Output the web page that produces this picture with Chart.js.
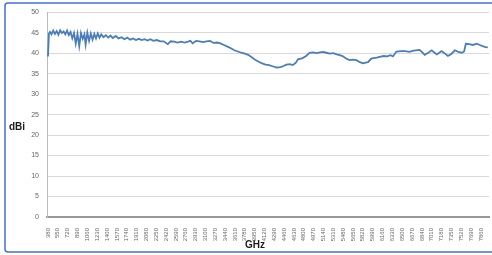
<!DOCTYPE html>
<html>
<head>
<meta charset="utf-8">
<title>dBi vs GHz</title>
<script src="https://cdn.jsdelivr.net/npm/chart.js@4.4.0/dist/chart.umd.min.js"></script>
<style>
html, body { margin: 0; padding: 0; background: #fff; }
#wrap { width: 492px; height: 255px; position: relative; }
</style>
</head>
<body>
<div id="wrap"><canvas id="chart"></canvas></div>
<script>
// frequency (MHz) and gain (dBi)
var freqs = [
  380, 397, 415, 440, 470, 500, 530, 560, 590, 620, 650, 680, 710, 740, 770, 800,
  830, 860, 890, 920, 950, 980, 1010, 1030, 1060, 1090, 1120, 1150, 1180, 1210,
  1240, 1270, 1300, 1340, 1380, 1420, 1460, 1500, 1550, 1600, 1650, 1700, 1750,
  1800, 1850, 1900, 1950, 2000, 2050, 2100, 2150, 2200, 2260, 2320, 2380, 2450,
  2500, 2560, 2620, 2680, 2740, 2800, 2840, 2880, 2940, 3000, 3060, 3120, 3180,
  3240, 3300, 3360, 3420, 3480, 3540, 3600, 3660, 3720, 3780, 3840, 3900, 3960,
  4020, 4080, 4140, 4200, 4260, 4330, 4400, 4440, 4500, 4560, 4610, 4660, 4700,
  4780, 4840, 4900, 4960, 5020, 5080, 5130, 5190, 5250, 5310, 5370, 5420, 5470,
  5530, 5590, 5650, 5710, 5770, 5820, 5870, 5910, 5960, 6000, 6060, 6110, 6180,
  6240, 6300, 6340, 6400, 6480, 6560, 6620, 6700, 6800, 6840, 6890, 6950, 7010,
  7050, 7100, 7180, 7230, 7290, 7350, 7410, 7470, 7530, 7570, 7600, 7660, 7720,
  7790, 7840, 7890, 7940, 7980
];
var gain = [
  39.2, 44.8, 45.2, 44.6, 45.5, 44.7, 45.4, 44.5, 45.6, 44.9, 45.3, 44.6, 45.5, 44.4, 45.2, 43.6,
  44.9, 42.3, 44.7, 41.7, 44.9, 43.5, 44.6, 42.1, 45.0, 43.0, 44.8, 43.3, 44.7, 43.6,
  44.8, 43.8, 44.6, 43.9, 44.4, 43.8, 44.3, 43.7, 44.2, 43.6, 43.9, 43.4, 43.8,
  43.3, 43.6, 43.2, 43.5, 43.2, 43.4, 43.1, 43.4, 43.0, 43.2, 42.9, 42.9, 42.2,
  42.9, 42.8, 42.6, 42.8, 42.6, 42.8, 43.0, 42.4, 43.0, 42.9, 42.7, 42.9, 43.0,
  42.5, 42.6, 42.4, 42.0, 41.6, 41.2, 40.7, 40.4, 40.1, 39.9, 39.6, 39.0, 38.4,
  37.9, 37.5, 37.2, 37.1, 36.8, 36.5, 36.6, 36.8, 37.2, 37.3, 37.1, 37.6, 38.5,
  38.8, 39.3, 40.1, 40.2, 40.0, 40.2, 40.3, 40.1, 39.9, 40.0, 39.7, 39.5, 39.3,
  38.7, 38.3, 38.4, 38.3, 37.8, 37.5, 37.7, 37.8, 38.6, 38.8, 38.9, 39.1, 39.3,
  39.2, 39.5, 39.2, 40.4, 40.5, 40.5, 40.3, 40.6, 40.8, 40.3, 39.6, 40.1, 40.7,
  40.2, 39.7, 40.5, 40.0, 39.3, 39.8, 40.7, 40.3, 40.1, 40.4, 42.3, 42.2, 42.0,
  42.3, 42.0, 41.7, 41.5, 41.4
];
var xTicks = [];
for (var t = 380; t <= 7860; t += 170) xTicks.push(t);

var points = freqs.map(function(f, i) { return { x: f, y: gain[i] }; });

var framePlugin = {
  id: 'frame',
  afterDraw: function(chart) {
    var c = chart.ctx;
    c.save();
    c.strokeStyle = '#3f6fe0';
    c.lineWidth = 1.5;
    c.beginPath();
    c.roundRect(5, 3, 500, 249, 3);
    c.stroke();
    c.fillStyle = '#1a1a1a';
    c.font = 'bold 10px "Liberation Sans", Arial, sans-serif';
    c.textBaseline = 'middle';
    c.textAlign = 'left';
    c.fillText('dBi', 9, 127);
    c.fillText('GHz', 245, 245);
    c.restore();
  }
};

new Chart(document.getElementById('chart'), {
  type: 'line',
  data: {
    datasets: [{
      data: points,
      borderColor: '#4a7ebb',
      borderWidth: 1.8,
      pointRadius: 0,
      tension: 0,
      fill: false
    }]
  },
  options: {
    responsive: true,
    maintainAspectRatio: false,
    animation: false,
    layout: { padding: { top: 11, right: 3, left: 0, bottom: 0 } },
    plugins: { legend: { display: false }, tooltip: { enabled: false } },
    scales: {
      x: {
        type: 'linear',
        min: 363,
        max: 8000,
        afterBuildTicks: function(scale) {
          scale.ticks = xTicks.map(function(v) { return { value: v }; });
        },
        afterFit: function(scale) { scale.height = 38; },
        grid: { display: false },
        border: { color: '#999', width: 2 },
        ticks: {
          autoSkip: false,
          minRotation: 90,
          maxRotation: 90,
          padding: 3,
          color: '#666',
          font: { size: 6, family: '"Liberation Sans", Arial, sans-serif' },
          callback: function(v) { return String(v); }
        }
      },
      y: {
        min: 0,
        max: 50,
        afterFit: function(scale) { scale.width = 47; },
        grid: { color: '#d9d9d9', lineWidth: 1, drawTicks: false },
        border: { color: '#bbb', width: 1 },
        ticks: {
          stepSize: 5,
          padding: 8,
          color: '#666',
          font: { size: 7, family: '"Liberation Sans", Arial, sans-serif' }
        }
      }
    }
  },
  plugins: [framePlugin]
});
</script>
</body>
</html>
